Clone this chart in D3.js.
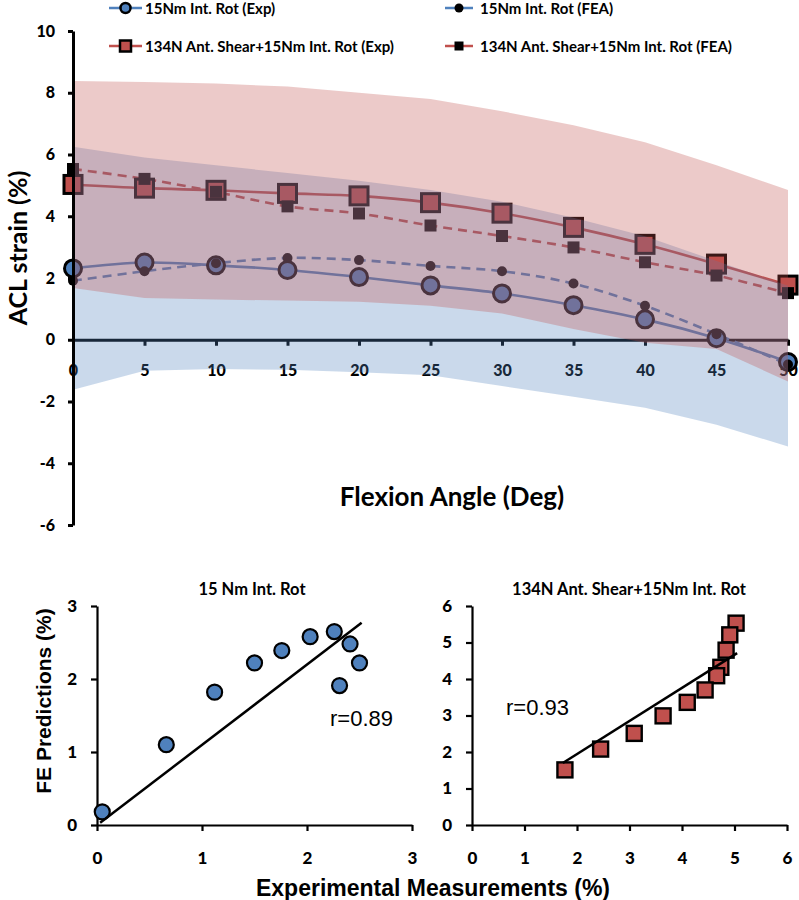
<!DOCTYPE html>
<html><head><meta charset="utf-8">
<script src="https://cdn.jsdelivr.net/npm/d3@7"></script>
<style>
body{margin:0;background:#fff}
svg{display:block}
text{font-family:Lato,'Open Sans',sans-serif}
</style>
</head><body>
<svg id="c" width="799" height="900"></svg>
<script>
// ---------- data ----------
const angles = [0,5,10,15,20,25,30,35,40,45,50];
const expRot   = [2.31,2.50,2.41,2.26,2.03,1.76,1.50,1.12,0.66,0.05,-0.72];
const feaRot   = [1.91,2.22,2.48,2.65,2.58,2.39,2.22,1.82,1.10,0.18,-0.80];
const expShear = [5.03,4.91,4.84,4.74,4.66,4.44,4.10,3.64,3.09,2.45,1.77];
const feaShear = [5.53,5.21,4.79,4.32,4.09,3.70,3.36,2.99,2.51,2.08,1.51];
const expRotUpper   = [6.25,5.90,5.65,5.40,5.15,4.85,4.47,3.95,3.35,2.55,1.75];
const expRotLower   = [-1.62,-1.00,-0.95,-0.97,-1.05,-1.15,-1.50,-1.85,-2.20,-2.75,-3.46];
const expShearUpper = [8.38,8.35,8.30,8.20,8.00,7.80,7.40,6.95,6.40,5.65,4.85];
const expShearLower = [1.68,1.35,1.30,1.27,1.23,1.10,0.85,0.35,-0.10,-0.30,-1.35];
const yTicksTop = [-6,-4,-2,0,2,4,6,8,10];
const fitRot   = [[0.03,0.03],[2.52,2.77]];
const fitShear = [[1.73,1.70],[5.05,4.71]];
const ticksRot = [0,1,2,3];
const ticksShear = [0,1,2,3,4,5,6];
const legendItems = [
  {label:"15Nm Int. Rot (Exp)", color:"#4f81bd", shape:"circle", big:true},
  {label:"15Nm Int. Rot (FEA)", color:"#4f81bd", shape:"circle", big:false},
  {label:"134N Ant. Shear+15Nm Int. Rot (Exp)", color:"#c0504d", shape:"square", big:true},
  {label:"134N Ant. Shear+15Nm Int. Rot (FEA)", color:"#c0504d", shape:"square", big:false}
];

const BLUE = "#4f81bd", RED = "#c0504d";
const svg = d3.select("#c");
const plain = d => String(d);

// ---------- top chart ----------
const x = d3.scaleLinear().domain([0,50]).range([73,788]);
const y = d3.scaleLinear().domain([-6,10]).range([525,31]);

// x axis at zero (drawn beneath the bands)
const gx = svg.append("g").attr("transform",`translate(0,${y(0)})`)
  .call(d3.axisBottom(x).tickValues(angles).tickSize(6).tickSizeOuter(0).tickPadding(19).tickFormat(plain));
gx.select(".domain").attr("stroke","#000").attr("stroke-width",3);
gx.selectAll(".tick line").attr("stroke","#000").attr("stroke-width",3);
gx.selectAll(".tick text").attr("fill","#000").style("font-size","16px").style("font-weight","900").style("font-family","Lato");

const line = d3.line().x((d,i)=>x(angles[i])).y(d=>y(d)).curve(d3.curveCatmullRom);
function drawLine(data,color,dash){
  svg.append("path").attr("d",line(data)).attr("fill","none").attr("stroke",color)
    .attr("stroke-width",2.6).attr("stroke-dasharray",dash||null);
}
drawLine(expRot,BLUE);
drawLine(feaRot,BLUE,"9,6");
drawLine(expShear,RED);
drawLine(feaShear,RED,"9,6");

svg.append("g").selectAll("circle").data(expRot).join("circle")
  .attr("cx",(d,i)=>x(angles[i])).attr("cy",d=>y(d)).attr("r",8.5)
  .attr("fill",BLUE).attr("stroke","#000").attr("stroke-width",3);
svg.append("g").selectAll("circle").data(feaRot).join("circle")
  .attr("cx",(d,i)=>x(angles[i])).attr("cy",d=>y(d)).attr("r",5)
  .attr("fill","#000");
svg.append("g").selectAll("rect").data(expShear).join("rect")
  .attr("x",(d,i)=>x(angles[i])-9).attr("y",d=>y(d)-9).attr("width",18).attr("height",18)
  .attr("fill",RED).attr("stroke","#000").attr("stroke-width",3);
svg.append("g").selectAll("rect").data(feaShear).join("rect")
  .attr("x",(d,i)=>x(angles[i])-6).attr("y",d=>y(d)-6).attr("width",12).attr("height",12)
  .attr("fill","#000");

// bands on top (semi-transparent)
const band = (up,lo)=>d3.area().x((d,i)=>x(angles[i])).y1(d=>y(d)).y0((d,i)=>y(lo[i]))(up);
svg.append("path").attr("d",band(expRotUpper,expRotLower)).attr("fill","rgb(79,129,189)").attr("fill-opacity",0.3);
svg.append("path").attr("d",band(expShearUpper,expShearLower)).attr("fill","rgb(192,80,77)").attr("fill-opacity",0.3);

// y axis
const gy = svg.append("g").attr("transform",`translate(${x(0)},0)`)
  .call(d3.axisLeft(y).tickValues(yTicksTop).tickSize(5).tickSizeOuter(0).tickPadding(13).tickFormat(plain));
gy.select(".domain").attr("stroke","#000").attr("stroke-width",3);
gy.selectAll(".tick line").attr("stroke","#000").attr("stroke-width",3);
gy.selectAll(".tick text").attr("fill","#000").style("font-size","16px").style("font-weight","900").style("font-family","Lato");

svg.append("text").attr("transform","translate(27,248) rotate(-90)").attr("text-anchor","middle")
  .style("font-size","25px").style("font-weight","bold").text("ACL strain (%)");
svg.append("text").attr("x",452).attr("y",506).attr("text-anchor","middle")
  .style("font-size","26px").style("font-weight","bold").text("Flexion Angle (Deg)");

// legend
const legPos = [[109,8],[445,8],[109,46],[445,46]];
legendItems.forEach((it,k)=>{
  const [lx,ly] = legPos[k];
  const g = svg.append("g");
  const w = it.big ? 33 : 28;
  g.append("line").attr("x1",lx).attr("x2",lx+w).attr("y1",ly).attr("y2",ly).attr("stroke",it.color).attr("stroke-width",2.5);
  const cx = lx + w/2;
  if(it.shape==="circle"){
    if(it.big) g.append("circle").attr("cx",cx).attr("cy",ly).attr("r",5).attr("fill",it.color).attr("stroke","#000").attr("stroke-width",2.5);
    else g.append("circle").attr("cx",cx).attr("cy",ly).attr("r",4.5).attr("fill","#000");
  } else {
    if(it.big) g.append("rect").attr("x",cx-5.5).attr("y",ly-5.5).attr("width",11).attr("height",11).attr("fill",it.color).attr("stroke","#000").attr("stroke-width",2.5);
    else g.append("rect").attr("x",cx-4.5).attr("y",ly-4.5).attr("width",9).attr("height",9).attr("fill","#000");
  }
  g.append("text").attr("x",lx+w+(it.big?3:7)).attr("y",ly+5.5).style("font-size","15px").style("font-weight","bold").text(it.label);
});

// ---------- scatter plots ----------
function scatter(opts){
  const sx = d3.scaleLinear().domain(opts.domain).range(opts.xr);
  const sy = d3.scaleLinear().domain(opts.domain).range([825,606]);
  const ax = svg.append("g").attr("transform","translate(0,825)")
    .call(d3.axisBottom(sx).tickValues(opts.ticks).tickSize(6).tickSizeOuter(0).tickPadding(21).tickFormat(plain));
  const ay = svg.append("g").attr("transform",`translate(${opts.xr[0]},0)`)
    .call(d3.axisLeft(sy).tickValues(opts.ticks).tickSize(6).tickSizeOuter(0).tickPadding(opts.ypad).tickFormat(plain));
  [ax,ay].forEach(a=>{
    a.select(".domain").attr("stroke","#000").attr("stroke-width",2.2);
    a.selectAll(".tick line").attr("stroke","#000").attr("stroke-width",2.2);
    a.selectAll(".tick text").attr("fill","#000").style("font-size","17px").style("font-weight","900").style("font-family","Lato");
  });
  svg.append("text").attr("x",opts.titleX).attr("y",595).attr("text-anchor","middle")
    .style("font-size","16.5px").style("font-weight","bold").text(opts.title);
  const pts = opts.xs.map((v,i)=>[v,opts.ys[i]]).filter(p=>p[0]>=0 && p[1]>=0);
  if(opts.shape==="circle"){
    svg.append("g").selectAll("circle").data(pts).join("circle")
      .attr("cx",d=>sx(d[0])).attr("cy",d=>sy(d[1])).attr("r",7.5)
      .attr("fill",BLUE).attr("stroke","#000").attr("stroke-width",2.2);
  } else {
    svg.append("g").selectAll("rect").data(pts).join("rect")
      .attr("x",d=>sx(d[0])-7.5).attr("y",d=>sy(d[1])-7.5).attr("width",15).attr("height",15)
      .attr("fill",RED).attr("stroke","#000").attr("stroke-width",2.4);
  }
  svg.append("path").attr("d",d3.line().x(d=>sx(d[0])).y(d=>sy(d[1]))(opts.fit))
    .attr("stroke","#000").attr("stroke-width",2.5).attr("fill","none");
  svg.append("text").attr("x",opts.rX).attr("y",opts.rY).attr("text-anchor","start")
    .style("font-family","'Liberation Sans',Arial,sans-serif").style("font-size","22px").text(opts.rText);
}
scatter({domain:[0,3],xr:[97,412],ticks:ticksRot,ypad:14,xs:expRot,ys:feaRot,shape:"circle",
  fit:fitRot,title:"15 Nm Int. Rot",titleX:252,rX:330,rY:726,rText:"r=0.89"});
scatter({domain:[0,6],xr:[472,787],ticks:ticksShear,ypad:14,xs:expShear,ys:feaShear,shape:"square",
  fit:fitShear,title:"134N Ant. Shear+15Nm Int. Rot",titleX:629,rX:506,rY:715,rText:"r=0.93"});

svg.append("text").attr("transform","translate(51,701) rotate(-90)").attr("text-anchor","middle")
  .style("font-family","'Liberation Sans',Arial,sans-serif").style("font-size","21px").style("font-weight","bold").text("FE Predictions (%)");
svg.append("text").attr("x",433).attr("y",896).attr("text-anchor","middle")
  .style("font-family","'Liberation Sans',Arial,sans-serif").style("font-size","23px").style("font-weight","bold").text("Experimental Measurements (%)");
</script>
</body></html>
